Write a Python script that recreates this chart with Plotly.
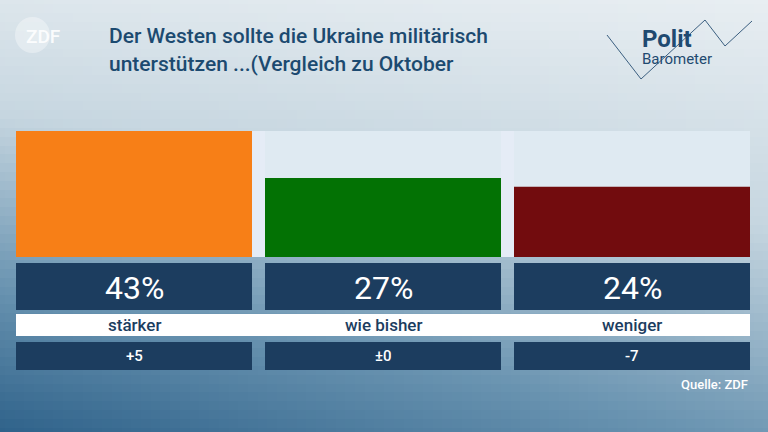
import numpy as np
import plotly.graph_objects as go

W, H = 768, 432

categories = ["stärker", "wie bisher", "weniger"]
values = [43, 27, 24]
changes = ["+5", "±0", "-7"]
bar_colors = ["#f77f17", "#037204", "#720c0e"]
title_lines = ["Der Westen sollte die Ukraine militärisch", "unterstützen ...(Vergleich zu Oktober"]


def px_x(v):
    return v / W


def px_y(v):
    return 1 - v / H


# background gradient (light top-right -> blue bottom-left)
gx = np.linspace(0, 1, 80)
gy = np.linspace(0, 1, 50)
X, Y = np.meshgrid(gx, gy)
Z = 0.72 * Y + 0.35 * (1 - X) * (0.35 + 0.65 * Y)

fig = go.Figure()
fig.add_trace(go.Heatmap(x=gx, y=gy, z=Z, showscale=False, hoverinfo="skip",
                         colorscale=[[0, "#e8eef2"], [0.35, "#c6d6e0"], [0.7, "#6a94b1"], [1, "#2f628a"]],
                         xaxis="x", yaxis="y"))

fig.add_trace(go.Bar(x=categories, y=[max(values)] * 3, marker_color="rgba(222,234,241,0.85)",
                     marker_line_width=0, xaxis="x2", yaxis="y2", hoverinfo="skip"))
fig.add_trace(go.Bar(x=categories, y=values, marker_color=bar_colors,
                     marker_line_width=0, xaxis="x2", yaxis="y2"))

shapes = [dict(type="rect", xref="paper", yref="paper", x0=px_x(16), x1=px_x(750),
               y0=px_y(336), y1=px_y(314), fillcolor="white", line_width=0)]
annotations = []


def note(x, y, text, size, color, anchor="center", weight=400):
    annotations.append(dict(xref="paper", yref="paper", x=px_x(x), y=px_y(y),
                            xanchor=anchor, yanchor="middle", text=text, showarrow=False,
                            font=dict(size=size, color=color, family="Roboto", weight=weight)))


lefts = [16, 265, 514]
for i, (cat, v, ch) in enumerate(zip(categories, values, changes)):
    x0, x1 = lefts[i], lefts[i] + 236
    cx = (x0 + x1) / 2
    shapes.append(dict(type="rect", xref="paper", yref="paper", x0=px_x(x0), x1=px_x(x1),
                       y0=px_y(310), y1=px_y(263), fillcolor="#1c3d5f", line_width=0))
    shapes.append(dict(type="rect", xref="paper", yref="paper", x0=px_x(x0), x1=px_x(x1),
                       y0=px_y(370), y1=px_y(342), fillcolor="#1c3d5f", line_width=0))
    note(cx, 288, f"{v}%", 32, "white")
    note(cx, 325, cat, 17, "#1c3d5f", weight=500)
    note(cx, 356, ch, 15, "white", weight=500)

# logos
shapes.append(dict(type="circle", xref="paper", yref="paper", x0=px_x(15), x1=px_x(50),
                   y0=px_y(53), y1=px_y(17), fillcolor="rgba(255,255,255,0.35)", line_width=0))
note(43, 36, "ZDF", 19, "rgba(255,255,255,0.9)", weight=500)
path_pts = [(607, 35), (641, 79), (705, 20), (725, 46), (752, 21)]
shapes.append(dict(type="path", xref="paper", yref="paper",
                   path="M" + " L".join(f"{px_x(a)},{px_y(b)}" for a, b in path_pts),
                   line=dict(color="#3b5f80", width=1)))
note(640, 39, "Polit", 24, "#1f4a70", "left", 700)
note(640, 59, "Barometer", 15, "#1f4a70", "left")
note(107, 36, title_lines[0], 21, "#1c4a70", "left", 500)
note(107, 64, title_lines[1], 21, "#1c4a70", "left", 500)
note(750, 384, "Quelle: ZDF", 13, "white", "right", 500)

g = 13 / 249
fig.update_layout(
    width=W, height=H, margin=dict(l=0, r=0, t=0, b=0),
    paper_bgcolor="#3b6d92", showlegend=False, barmode="overlay", bargap=g,
    shapes=shapes, annotations=annotations,
    xaxis=dict(domain=[0, 1], range=[0, 1], visible=False),
    yaxis=dict(domain=[0, 1], range=[1, 0], visible=False),
    xaxis2=dict(domain=[px_x(16), px_x(750)], range=[-0.5 + g / 2, 2.5 - g / 2],
                visible=False, anchor="y2"),
    yaxis2=dict(domain=[px_y(257), px_y(131)], range=[0, max(values)], visible=False, anchor="x2"),
)
fig.write_html("out.html", config={"displayModeBar": False},
               post_script="document.body.style.margin='0';")
